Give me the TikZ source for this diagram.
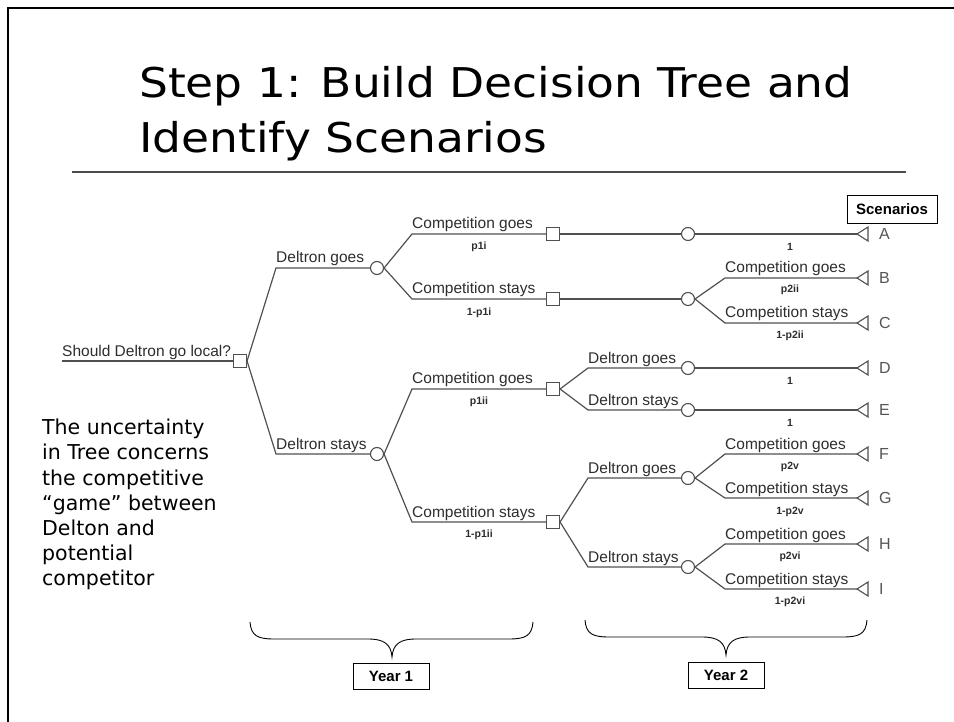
\documentclass[tikz,border=0pt]{standalone}
\usepackage{fontspec}
\setmainfont{Liberation Sans}
\newfontfamily\slidefont{DejaVu Sans}
\newfontfamily\titlefont[FakeStretch=1.11]{DejaVu Sans}

\definecolor{treegray}{RGB}{80,80,80}
\definecolor{labgray}{RGB}{45,45,45}
\definecolor{endgray}{RGB}{85,85,85}

\begin{document}
\begin{tikzpicture}[x=1pt,y=-1pt,
  dec/.style={rectangle,draw=treegray,line width=1.1pt,fill=white,minimum size=13pt,inner sep=0pt},
  chn/.style={circle,draw=treegray,line width=1.1pt,fill=white,minimum size=13pt,inner sep=0pt},
  edge/.style={draw=treegray,line width=1.2pt},
  termtri/.style={draw=treegray,line width=1.1pt,fill=white,line join=miter},
  lab/.style={anchor=base west,inner sep=0pt,yshift=5pt,text=labgray,font=\fontsize{15.5}{17}\selectfont},
  prob/.style={anchor=center,inner sep=0pt,text=labgray,font=\fontsize{10.5}{12}\selectfont\bfseries},
  endlab/.style={anchor=west,inner sep=0pt,text=endgray,font=\fontsize{16}{18}\selectfont},
  tagbox/.style={draw=black,line width=0.8pt,fill=white,inner sep=0pt,font=\fontsize{15}{17}\selectfont\bfseries},
  title/.style={anchor=base west,inner sep=0pt,font=\titlefont\fontsize{41}{48}\selectfont},
  brace/.style={draw=black,line width=0.9pt},
]
\useasboundingbox (0,0) rectangle (954,722);

% slide frame and title
\draw[line width=2.6pt] (8,722) -- (8,8) -- (954,8);
\node[title] (t1) at (139,98) {Step 1: Build Decision Tree and};
\node[title] (t2) at (139,153) {Identify Scenarios};
\coordinate (ruleL) at (72,172);
\coordinate (ruleR) at (906,172);
\draw[draw=black!70,line width=1.2pt] (ruleL) -- (ruleR);

% side note
\node[anchor=north west,inner sep=0pt,align=left,font=\slidefont\fontsize{20.5}{25.2}\selectfont] (note) at (42,419)
  {The uncertainty\\in Tree concerns\\the competitive\\“game” between\\Delton and\\potential\\competitor};

% ---------- decision tree ----------
% root decision
\node[dec] (r) at (240,361) {};
\coordinate (r0) at (62,361);
\draw[edge] (r0) -- (r.west);
\node[lab] (lr) at (r0) {Should Deltron go local?};

% first move: Deltron
\node[chn] (c1) at (377,268) {};
\node[chn] (c2) at (377,454) {};
\coordinate (e1) at (276,268);
\coordinate (e2) at (276,454);
\draw[edge] (r.east) -- (e1) -- (c1.west);
\draw[edge] (r.east) -- (e2) -- (c2.west);
\node[lab] (le1) at (e1) {Deltron goes};
\node[lab] (le2) at (e2) {Deltron stays};

% year 1: competition
\node[dec] (s1) at (553,234) {};
\node[dec] (s2) at (553,299) {};
\node[dec] (s3) at (553,389) {};
\node[dec] (s4) at (553,522) {};
\coordinate (f1) at (412,234);
\coordinate (f2) at (412,299);
\coordinate (f3) at (412,389);
\coordinate (f4) at (412,522);
\draw[edge] (c1.east) -- (f1) -- (s1.west);
\draw[edge] (c1.east) -- (f2) -- (s2.west);
\draw[edge] (c2.east) -- (f3) -- (s3.west);
\draw[edge] (c2.east) -- (f4) -- (s4.west);
\node[lab] (lf1) at (f1) {Competition goes};
\node[lab] (lf2) at (f2) {Competition stays};
\node[lab] (lf3) at (f3) {Competition goes};
\node[lab] (lf4) at (f4) {Competition stays};
\node[prob] (pf1) at (479,247) {p1i};
\node[prob] (pf2) at (479,313) {1-p1i};
\node[prob] (pf3) at (479,402) {p1ii};
\node[prob] (pf4) at (479,535) {1-p1ii};

% year 2 chance nodes
\node[chn] (k1) at (688,234) {};
\node[chn] (k2) at (688,299) {};
\node[chn] (k3) at (688,368) {};
\node[chn] (k4) at (688,410) {};
\node[chn] (k5) at (688,478) {};
\node[chn] (k6) at (688,567) {};
\draw[edge] (s1.east) -- (k1.west);
\draw[edge] (s2.east) -- (k2.west);
\coordinate (g3) at (588,368);
\coordinate (g4) at (588,410);
\coordinate (g5) at (588,478);
\coordinate (g6) at (588,567);
\draw[edge] (s3.east) -- (g3) -- (k3.west);
\draw[edge] (s3.east) -- (g4) -- (k4.west);
\draw[edge] (s4.east) -- (g5) -- (k5.west);
\draw[edge] (s4.east) -- (g6) -- (k6.west);
\node[lab] (lg3) at (g3) {Deltron goes};
\node[lab] (lg4) at (g4) {Deltron stays};
\node[lab] (lg5) at (g5) {Deltron goes};
\node[lab] (lg6) at (g6) {Deltron stays};

% end points of the scenarios
\foreach \n/\y in {A/234,B/278,C/323,D/368,E/410,F/454,G/498,H/544,I/589}{
  \coordinate (t\n) at (857,\y);
  \node[endlab] (n\n) at (879,\y) {\n};
}
\coordinate (hB) at (725,278);
\coordinate (hC) at (725,323);
\coordinate (hF) at (725,454);
\coordinate (hG) at (725,498);
\coordinate (hH) at (725,544);
\coordinate (hI) at (725,589);
\draw[edge] (k1.east) -- (tA);
\draw[edge] (k2.east) -- (hB) -- (tB);
\draw[edge] (k2.east) -- (hC) -- (tC);
\draw[edge] (k3.east) -- (tD);
\draw[edge] (k4.east) -- (tE);
\draw[edge] (k5.east) -- (hF) -- (tF);
\draw[edge] (k5.east) -- (hG) -- (tG);
\draw[edge] (k6.east) -- (hH) -- (tH);
\draw[edge] (k6.east) -- (hI) -- (tI);
\node[lab] (lB) at (hB) {Competition goes};
\node[lab] (lC) at (hC) {Competition stays};
\node[lab] (lF) at (hF) {Competition goes};
\node[lab] (lG) at (hG) {Competition stays};
\node[lab] (lH) at (hH) {Competition goes};
\node[lab] (lI) at (hI) {Competition stays};
\node[prob] (pA) at (790,247) {1};
\node[prob] (pB) at (790,290) {p2ii};
\node[prob] (pC) at (790,336) {1-p2ii};
\node[prob] (pD) at (790,381) {1};
\node[prob] (pE) at (790,423) {1};
\node[prob] (pF) at (790,467) {p2v};
\node[prob] (pG) at (790,512) {1-p2v};
\node[prob] (pH) at (790,557) {p2vi};
\node[prob] (pI) at (790,602) {1-p2vi};
\foreach \n in {A,B,C,D,E,F,G,H,I}{
  \draw[termtri] (t\n) -- ++(11,-7) -- ++(0,14) -- cycle;
}

% labels
\node[tagbox,minimum width=90pt,minimum height=28pt] (scen) at (892,209) {Scenarios};
\node[tagbox,minimum width=76pt,minimum height=26pt] (y1) at (391,676) {Year 1};
\node[tagbox,minimum width=76pt,minimum height=26pt] (y2) at (726,675) {Year 2};

% braces over the two years
\draw[brace] (250,622) .. controls (251,636) and (258,639) .. (274,639)
  -- (368,639) .. controls (384,639) and (391,644) .. (392,657)
  .. controls (393,644) and (400,639) .. (416,639)
  -- (509,639) .. controls (525,639) and (532,636) .. (533,622);
\draw[brace] (585,620) .. controls (586,634) and (593,637) .. (609,637)
  -- (702,637) .. controls (718,637) and (725,642) .. (726,655)
  .. controls (727,642) and (734,637) .. (750,637)
  -- (843,637) .. controls (859,637) and (866,634) .. (867,620);
\end{tikzpicture}
\end{document}
